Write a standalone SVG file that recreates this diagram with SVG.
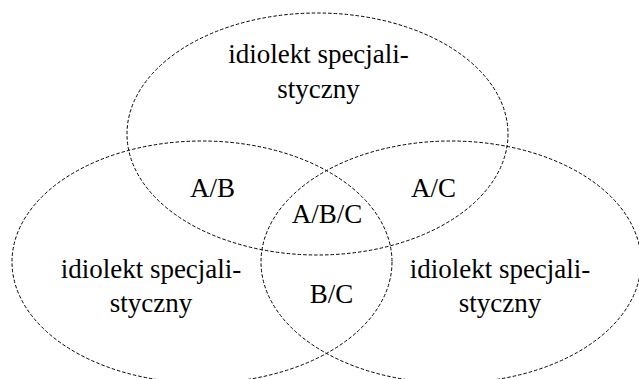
<svg xmlns="http://www.w3.org/2000/svg" width="639" height="379" viewBox="0 0 639 379">
  <style>
    .set { fill: none; stroke: #000; stroke-width: 1; stroke-dasharray: 3.5 2; }
    .lbl { font-family: "Liberation Serif", "Times New Roman", serif; font-size: 27px; fill: #000; text-anchor: middle; }
  </style>
  <rect width="639" height="379" fill="#fff"/>
  <!-- set outlines -->
  <g id="sets">
    <ellipse id="set-a" class="set" cx="317.5" cy="134" rx="190.5" ry="121"/>
    <ellipse id="set-b" class="set" cx="202" cy="262" rx="190" ry="121"/>
    <ellipse id="set-c" class="set" cx="451" cy="262" rx="190" ry="121"/>
  </g>
  <!-- region labels -->
  <g id="label-a">
    <text class="lbl" x="318.5" y="63">idiolekt specjali-</text>
    <text class="lbl" x="318.5" y="98">styczny</text>
  </g>
  <g id="label-b">
    <text class="lbl" x="151" y="278">idiolekt specjali-</text>
    <text class="lbl" x="151" y="312">styczny</text>
  </g>
  <g id="label-c">
    <text class="lbl" x="500" y="278">idiolekt specjali-</text>
    <text class="lbl" x="500" y="312">styczny</text>
  </g>
  <g id="label-ab"><text class="lbl" x="212.5" y="197">A/B</text></g>
  <g id="label-ac"><text class="lbl" x="433.5" y="197">A/C</text></g>
  <g id="label-abc"><text class="lbl" x="327" y="223">A/B/C</text></g>
  <g id="label-bc"><text class="lbl" x="331.5" y="303">B/C</text></g>
</svg>
